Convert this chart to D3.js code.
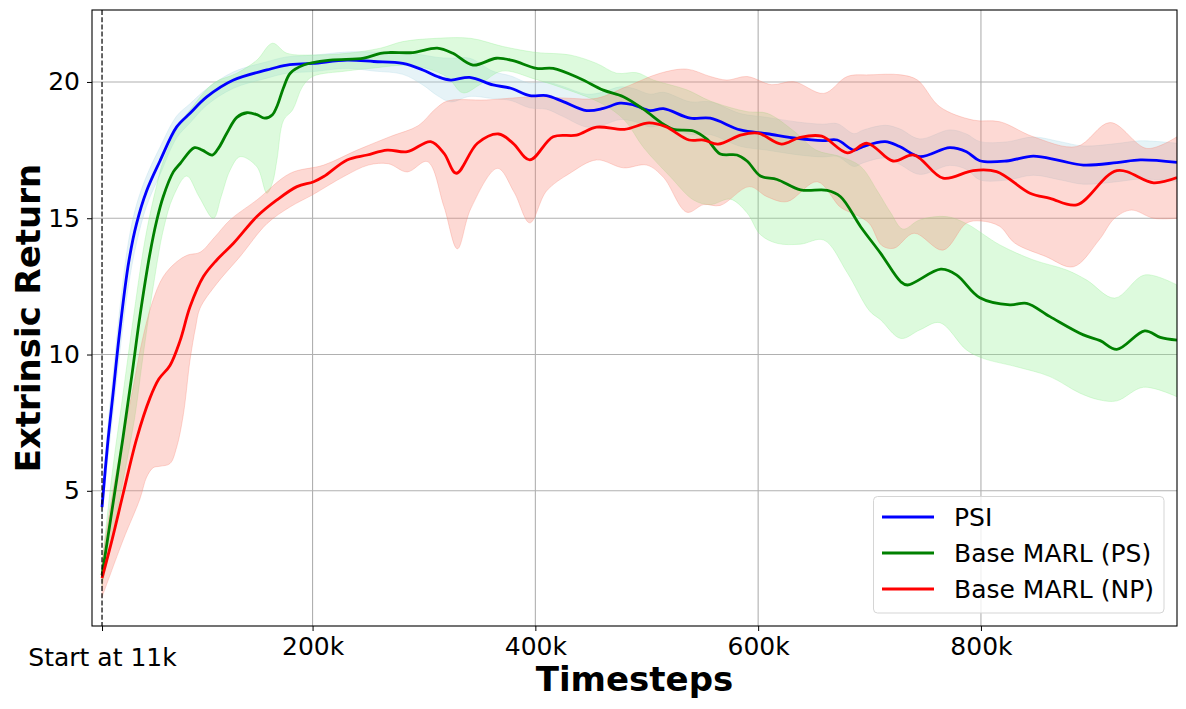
<!DOCTYPE html>
<html><head><meta charset="utf-8">
<script src="https://cdn.jsdelivr.net/npm/d3@7"></script>
<style>
body{margin:0;background:#fff;}
text{font-family:"DejaVu Sans",sans-serif;}
</style></head>
<body><svg id="chart" width="1186" height="709"></svg>
<script>
// ---------- DATA (timesteps in thousands) ----------
const seriesNames = ["PSI", "Base MARL (PS)", "Base MARL (NP)"];
const xTickValues = [11, 200, 400, 600, 800];
const xTickLabels = ["Start at 11k", "200k", "400k", "600k", "800k"];
const yTickValues = [5, 10, 15, 20];

// PSI
const psiSteps = [11,16,21,27,35,42,51,63,78,90,105,129,159,177,200,231,255,281,299,312,324,341,362,378,395,410,425,446,461,476,488,503,515,539,557,584,608,635,658,671,686,694,714,727,745,772,787,799,823,847,871,892,922,943,976];
const psiMean  = [4.4,6.7,8.6,10.9,13.4,14.8,16.0,17.1,18.35,18.85,19.45,20.07,20.44,20.62,20.68,20.8,20.75,20.68,20.44,20.2,20.07,20.17,19.89,19.77,19.5,19.5,19.28,18.95,19.03,19.22,19.16,18.95,19.02,18.67,18.67,18.24,18.1,17.93,17.85,17.87,17.5,17.63,17.81,17.63,17.26,17.59,17.44,17.11,17.1,17.28,17.11,16.95,17.04,17.14,17.05];
const psiSpread= [0.3,0.6,0.7,0.8,0.8,0.7,0.55,0.5,0.4,0.35,0.3,0.3,0.3,0.3,0.3,0.3,0.35,0.4,0.55,0.7,0.8,0.7,0.5,0.45,0.45,0.5,0.55,0.6,0.6,0.6,0.6,0.6,0.6,0.6,0.6,0.6,0.6,0.6,0.6,0.6,0.6,0.6,0.6,0.65,0.65,0.65,0.65,0.7,0.7,0.7,0.7,0.7,0.7,0.7,0.7];

// Base MARL (PS)
const psSteps = [11,20,30,38,45,54,60,66,75,81,94,101,110,116,123,132,141,150,157,164,168,174,180,192,216,246,261,270,290,312,326,344,365,380,401,416,440,461,479,497,515,524,542,554,566,581,590,602,617,638,662,674,692,710,728,734,764,778,799,826,841,862,892,907,922,947,961,976];
const psMean  = [1.9,4.3,7.0,9.3,11.4,13.7,14.9,15.8,16.7,17.0,17.59,17.5,17.32,17.6,18.12,18.7,18.87,18.8,18.67,18.8,19.1,19.8,20.32,20.62,20.8,20.87,21.05,21.08,21.08,21.24,21.05,20.62,20.87,20.78,20.5,20.5,20.13,19.7,19.46,19.0,18.45,18.26,18.2,17.9,17.36,17.32,17.1,16.55,16.42,16.04,16.02,15.79,14.69,13.71,12.67,12.55,13.13,12.92,12.08,11.82,11.88,11.39,10.72,10.51,10.19,10.87,10.63,10.53];
const psHighSteps = [11,20,30,40,50,60,66,81,90,111,132,150,164,177,201,231,261,281,311,342,371,401,431,455,473,491,506,536,557,590,608,632,652,674,692,707,719,730,745,769,787,817,847,877,895,920,947,976];
const psHigh = [2.3,5.6,8.6,11.6,14.3,16.2,17.1,18.48,18.97,19.95,20.32,20.8,21.42,21.05,20.99,21.05,21.24,21.48,21.6,21.6,21.3,21.08,20.99,20.68,20.32,20.34,20.07,19.71,19.3,18.91,18.85,18.2,17.5,17.26,16.9,16.0,15.2,14.6,14.94,15.06,14.8,14.02,13.47,13.1,12.73,12.07,12.92,12.55];
const psLowSteps = [11,20,30,40,48,57,66,75,87,98,111,118,126,135,150,159,164,168,174,182,191,200,230,252,290,320,335,350,370,400,430,460,480,497,521,542,557,575,590,602,617,638,659,680,700,710,728,745,763,787,802,832,862,889,907,922,946,976];
const psLow = [1.5,3.3,5.4,7.6,10.0,12.5,14.57,15.8,16.55,15.8,15.0,15.8,16.77,17.26,16.89,15.92,16.3,17.14,18.6,18.97,19.83,20.2,20.4,20.5,20.6,20.2,19.6,19.9,20.4,20.1,19.7,19.2,18.6,17.6,16.53,15.67,15.5,15.7,15.2,14.4,14.08,14.05,14.2,13.0,11.6,11.27,10.59,10.9,11.17,10.17,9.86,9.55,9.19,8.58,8.33,8.3,8.8,8.45];

// Base MARL (NP)
const npSteps = [11,20,30,42,54,62,72,81,90,102,114,129,150,168,186,201,210,231,249,267,285,306,318,329,348,367,380,395,416,437,455,480,502,517,538,551,564,585,600,621,637,657,680,698,721,740,766,793,814,844,862,886,922,955,976];
const npMean  = [1.8,3.2,4.9,6.9,8.4,9.1,9.6,10.5,11.75,12.86,13.47,14.08,15.06,15.67,16.16,16.34,16.53,17.14,17.32,17.5,17.44,17.81,17.38,16.65,17.75,18.09,17.75,17.14,17.99,18.05,18.34,18.26,18.5,18.36,17.87,17.87,17.72,18.06,18.12,17.72,17.96,18.01,17.4,17.75,17.1,17.32,16.47,16.75,16.71,15.92,15.73,15.49,16.75,16.3,16.49];
const npHighSteps = [11,20,30,38,47,56,66,78,88,99,112,126,150,180,210,240,270,295,310,321,356,401,431,455,482,512,536,557,572,590,612,632,659,680,700,728,743,763,793,817,847,886,916,949,976];
const npHigh = [2.4,4.8,7.0,8.6,10.5,11.9,12.86,13.4,13.65,13.75,14.3,14.94,15.67,16.65,16.95,17.5,18.0,18.4,19.0,19.3,19.34,19.46,19.4,19.4,19.83,20.32,20.47,20.2,20.07,20.2,19.9,20.01,19.58,20.2,20.26,20.26,20.07,19.09,18.6,18.54,17.99,17.63,18.51,17.56,17.99];
const npLowSteps = [11,30,45,51,57,63,72,78,84,90,95,99,114,135,159,180,200,228,250,268,285,303,318,330,342,366,381,395,410,431,455,479,500,515,536,551,566,592,608,626,653,674,689,700,711,722,740,766,787,800,817,830,858,883,906,920,935,955,976];
const npLow = [1.1,3.2,4.7,5.5,5.85,5.9,6.0,6.6,7.8,9.8,11.0,11.7,12.6,13.6,14.8,15.42,15.86,16.53,16.95,17.0,16.7,17.08,15.42,13.88,15.35,16.83,15.95,14.83,16.0,16.65,17.14,16.85,16.95,16.5,15.22,15.5,15.47,16.16,15.79,15.61,16.34,15.4,15.1,14.8,14.0,13.9,14.45,13.83,14.82,14.9,14.7,14.1,13.6,13.22,14.2,15.0,15.3,15.0,15.0];

// ---------- CHART ----------
const m = {left: 92, right: 1177, top: 10, bottom: 626};
const svg = d3.select("#chart");
const x = d3.scaleLinear().domain([2, 976]).range([m.left, m.right]);
const y = d3.scaleLinear().domain([0.04, 22.64]).range([m.bottom, m.top]);
const curve = d3.curveCatmullRom.alpha(0.5);

const colors = ["#0000ff", "#008000", "#ff0000"];
const bandColors = ["#add8e6", "#90ee90", "#fa8072"];

// grid
const grid = svg.append("g");
grid.selectAll("line.gx").data(xTickValues.slice(1)).join("line")
  .attr("x1", d => x(d)).attr("x2", d => x(d)).attr("y1", m.top).attr("y2", m.bottom)
  .attr("stroke", "#b0b0b0").attr("stroke-width", 1.1);
grid.selectAll("line.gy").data(yTickValues).join("line")
  .attr("y1", d => y(d)).attr("y2", d => y(d)).attr("x1", m.left).attr("x2", m.right)
  .attr("stroke", "#b0b0b0").attr("stroke-width", 1.1);

svg.append("defs").append("clipPath").attr("id", "clip")
  .append("rect").attr("x", m.left).attr("y", m.top).attr("width", m.right - m.left).attr("height", m.bottom - m.top);
const plot = svg.append("g").attr("clip-path", "url(#clip)");

function zip(steps, vals) { return steps.map((t, i) => [x(t), y(vals[i])]); }
function bandPath(hiSteps, hi, loSteps, lo) {
  const top = d3.line().curve(curve)(zip(hiSteps, hi));
  const bottom = d3.line().curve(curve)(zip(loSteps, lo).reverse());
  return top + bottom.replace(/^M/, "L") + "Z";
}

// bands
const psiHigh = psiMean.map((v, i) => v + psiSpread[i]);
const psiLow = psiMean.map((v, i) => v - psiSpread[i]);
const bands = [
  bandPath(psiSteps, psiHigh, psiSteps, psiLow),
  bandPath(psHighSteps, psHigh, psLowSteps, psLow),
  bandPath(npHighSteps, npHigh, npLowSteps, npLow)
];
bands.forEach((p, i) => {
  plot.append("path").attr("d", p)
    .attr("fill", bandColors[i]).attr("fill-opacity", 0.3)
    .attr("stroke", bandColors[i]).attr("stroke-opacity", 0.3).attr("stroke-width", 1);
});

// lines
const lines = [zip(psiSteps, psiMean), zip(psSteps, psMean), zip(npSteps, npMean)];
lines.forEach((pts, i) => {
  plot.append("path").attr("d", d3.line().curve(curve)(pts))
    .attr("fill", "none").attr("stroke", colors[i]).attr("stroke-width", 2.8)
    .attr("stroke-linejoin", "round").attr("stroke-linecap", "butt");
});

// start marker
svg.append("line").attr("x1", x(11)).attr("x2", x(11)).attr("y1", m.top).attr("y2", m.bottom)
  .attr("stroke", "#000").attr("stroke-width", 1.2).attr("stroke-dasharray", "5,2.2");

// spines
svg.append("rect").attr("x", m.left).attr("y", m.top).attr("width", m.right - m.left).attr("height", m.bottom - m.top)
  .attr("fill", "none").attr("stroke", "#000").attr("stroke-width", 1.1);

// axes
const xAxis = d3.axisBottom(x).tickValues(xTickValues).tickFormat((d, i) => xTickLabels[i]).tickSize(5).tickPadding(6);
const gx = svg.append("g").attr("transform", `translate(0,${m.bottom})`).call(xAxis);
gx.select(".domain").remove();
gx.selectAll("text").attr("font-size", 25).attr("font-family", "DejaVu Sans").attr("fill", "#000");
gx.selectAll(".tick").filter(d => d === 11).select("text").attr("dy", "1.17em");

const yAxis = d3.axisLeft(y).tickValues(yTickValues).tickSize(5).tickPadding(7);
const gy = svg.append("g").attr("transform", `translate(${m.left},0)`).call(yAxis);
gy.select(".domain").remove();
gy.selectAll("text").attr("font-size", 25).attr("font-family", "DejaVu Sans").attr("fill", "#000");

// axis labels
svg.append("text").attr("x", (m.left + m.right) / 2).attr("y", 691).attr("text-anchor", "middle")
  .attr("font-size", 34).attr("font-weight", "bold").text("Timesteps");
svg.append("text").attr("transform", `translate(40,${(m.top + m.bottom) / 2}) rotate(-90)`).attr("text-anchor", "middle")
  .attr("font-size", 34).attr("font-weight", "bold").text("Extrinsic Return");

// legend
const lg = svg.append("g");
lg.append("rect").attr("x", 873.5).attr("y", 496.5).attr("width", 290.5).attr("height", 116.5).attr("rx", 4)
  .attr("fill", "#fff").attr("fill-opacity", 0.8).attr("stroke", "#d5d5d5").attr("stroke-width", 1);
seriesNames.forEach((name, i) => {
  const yy = 517 + i * 36;
  lg.append("line").attr("x1", 882).attr("x2", 934).attr("y1", yy).attr("y2", yy)
    .attr("stroke", colors[i]).attr("stroke-width", 2.8);
  lg.append("text").attr("x", 954).attr("y", yy + 9).attr("font-size", 25).text(name);
});
</script></body></html>
